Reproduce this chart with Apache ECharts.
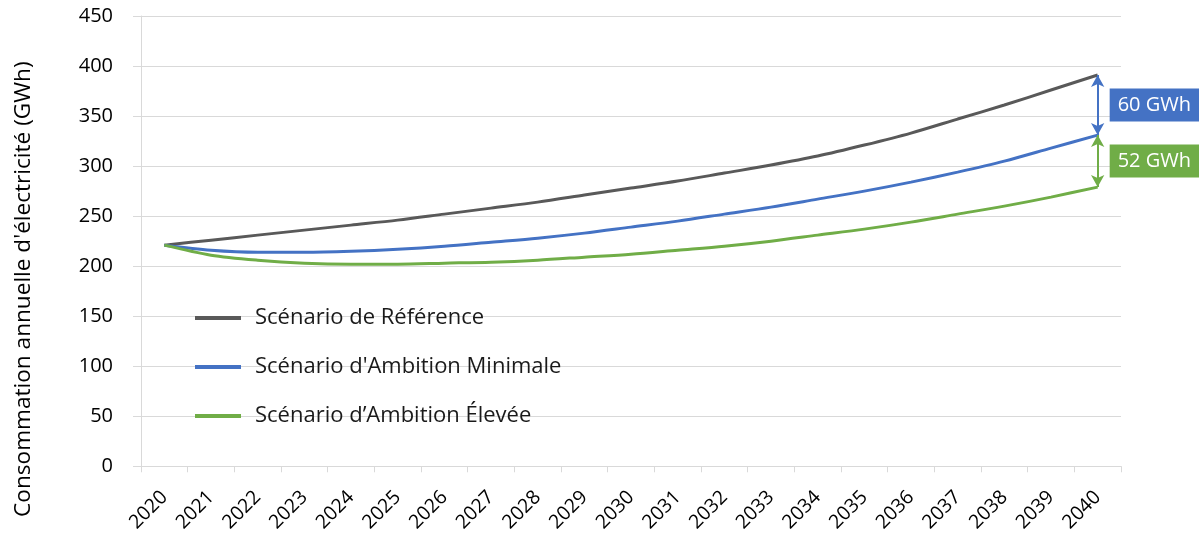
<!DOCTYPE html>
<html>
<head>
<meta charset="utf-8">
<script src="https://cdn.jsdelivr.net/npm/echarts@6/dist/echarts.min.js"></script>
<style>
html,body{margin:0;padding:0;background:#fff;}
#chart{width:1201px;height:535px;}
</style>
</head>
<body>
<div id="chart"></div>
<script>
const years = ['2020','2021','2022','2023','2024','2025','2026','2027','2028','2029','2030','2031','2032','2033','2034','2035','2036','2037','2038','2039','2040'];
const seriesNames = ['Scénario de Référence', "Scénario d'Ambition Minimale", 'Scénario d’Ambition Élevée'];
const reference = [221,226,231,236,241,246,252,258,264,271,278,285,293,301,310,321,333,347,361,376,391];
const ambitionMin = [221,216,214,214,215,217,220,224,228,233,239,245,252,259,267,275,284,294,305,318,331];
const ambitionHigh = [221,211,206,203,202,202,203,204,206,209,212,216,220,225,231,237,244,252,260,269,279];
const gapLabels = ['60 GWh','52 GWh'];
const yAxisName = "Consommation annuelle d'électricité (GWh)";

const FONT = 'Open Sans';
const colors = ['#595959','#4472C4','#70AD47'];
const last = years[years.length-1];
const n = years.length-1;

const chart = echarts.init(document.getElementById('chart'));
chart.setOption({
  animation:false,
  textStyle:{fontFamily:FONT},
  grid:{left:141,right:80,top:16,bottom:67},
  legend:{
    orient:'vertical', left:195, top:307, padding:0,
    icon:'rect', itemWidth:46, itemHeight:4, itemGap:27,
    textStyle:{fontFamily:FONT, fontSize:22, color:'#1a1a1a', padding:[0,0,0,9]},
    data:seriesNames
  },
  xAxis:{
    type:'category', data:years, boundaryGap:true,
    axisLine:{lineStyle:{color:'#d9d9d9', width:1}},
    axisTick:{show:true, length:6, lineStyle:{color:'#d9d9d9'}},
    axisLabel:{rotate:45, margin:28, fontSize:19.5, color:'#000', fontFamily:FONT, interval:0},
    splitLine:{show:false}
  },
  yAxis:{
    type:'value', min:0, max:450, interval:50,
    name:yAxisName, nameLocation:'middle', nameGap:106,
    nameTextStyle:{fontSize:22.6, color:'#000', fontFamily:FONT, padding:[0,96,0,0]},
    axisLine:{show:true, lineStyle:{color:'#d9d9d9'}},
    axisTick:{show:true, length:8, lineStyle:{color:'#d9d9d9'}},
    axisLabel:{fontSize:20, color:'#000', margin:28, fontFamily:FONT},
    splitLine:{lineStyle:{color:'#d9d9d9', width:1}}
  },
  series:[
    {name:seriesNames[0], type:'line', data:reference, smooth:0.3, symbol:'none',
      lineStyle:{color:colors[0], width:3}, itemStyle:{color:colors[0]}},
    {name:seriesNames[1], type:'line', data:ambitionMin, smooth:0.3, symbol:'none',
      lineStyle:{color:colors[1], width:3}, itemStyle:{color:colors[1]},
      markLine:{silent:true, symbol:['arrow','arrow'], symbolSize:[10,12],
        lineStyle:{color:colors[1], width:2, type:'solid'}, label:{show:false},
        data:[[{coord:[last, reference[n]]},{coord:[last, ambitionMin[n]]}]]},
      markPoint:{silent:true, symbol:'rect', symbolSize:0,
        label:{show:true, position:'right', distance:12, formatter:gapLabels[0],
          backgroundColor:colors[1], color:'#fff', fontSize:20, fontFamily:FONT, padding:[7,8,6,8]},
        data:[{coord:[last,(reference[n]+ambitionMin[n])/2]}]}},
    {name:seriesNames[2], type:'line', data:ambitionHigh, smooth:0.3, symbol:'none',
      lineStyle:{color:colors[2], width:3}, itemStyle:{color:colors[2]},
      markLine:{silent:true, symbol:['arrow','arrow'], symbolSize:[10,12],
        lineStyle:{color:colors[2], width:2, type:'solid'}, label:{show:false},
        data:[[{coord:[last, ambitionMin[n]]},{coord:[last, ambitionHigh[n]]}]]},
      markPoint:{silent:true, symbol:'rect', symbolSize:0,
        label:{show:true, position:'right', distance:12, formatter:gapLabels[1],
          backgroundColor:colors[2], color:'#fff', fontSize:20, fontFamily:FONT, padding:[7,8,6,8]},
        data:[{coord:[last,(ambitionMin[n]+ambitionHigh[n])/2]}]}}
  ]
});
</script>
</body>
</html>
